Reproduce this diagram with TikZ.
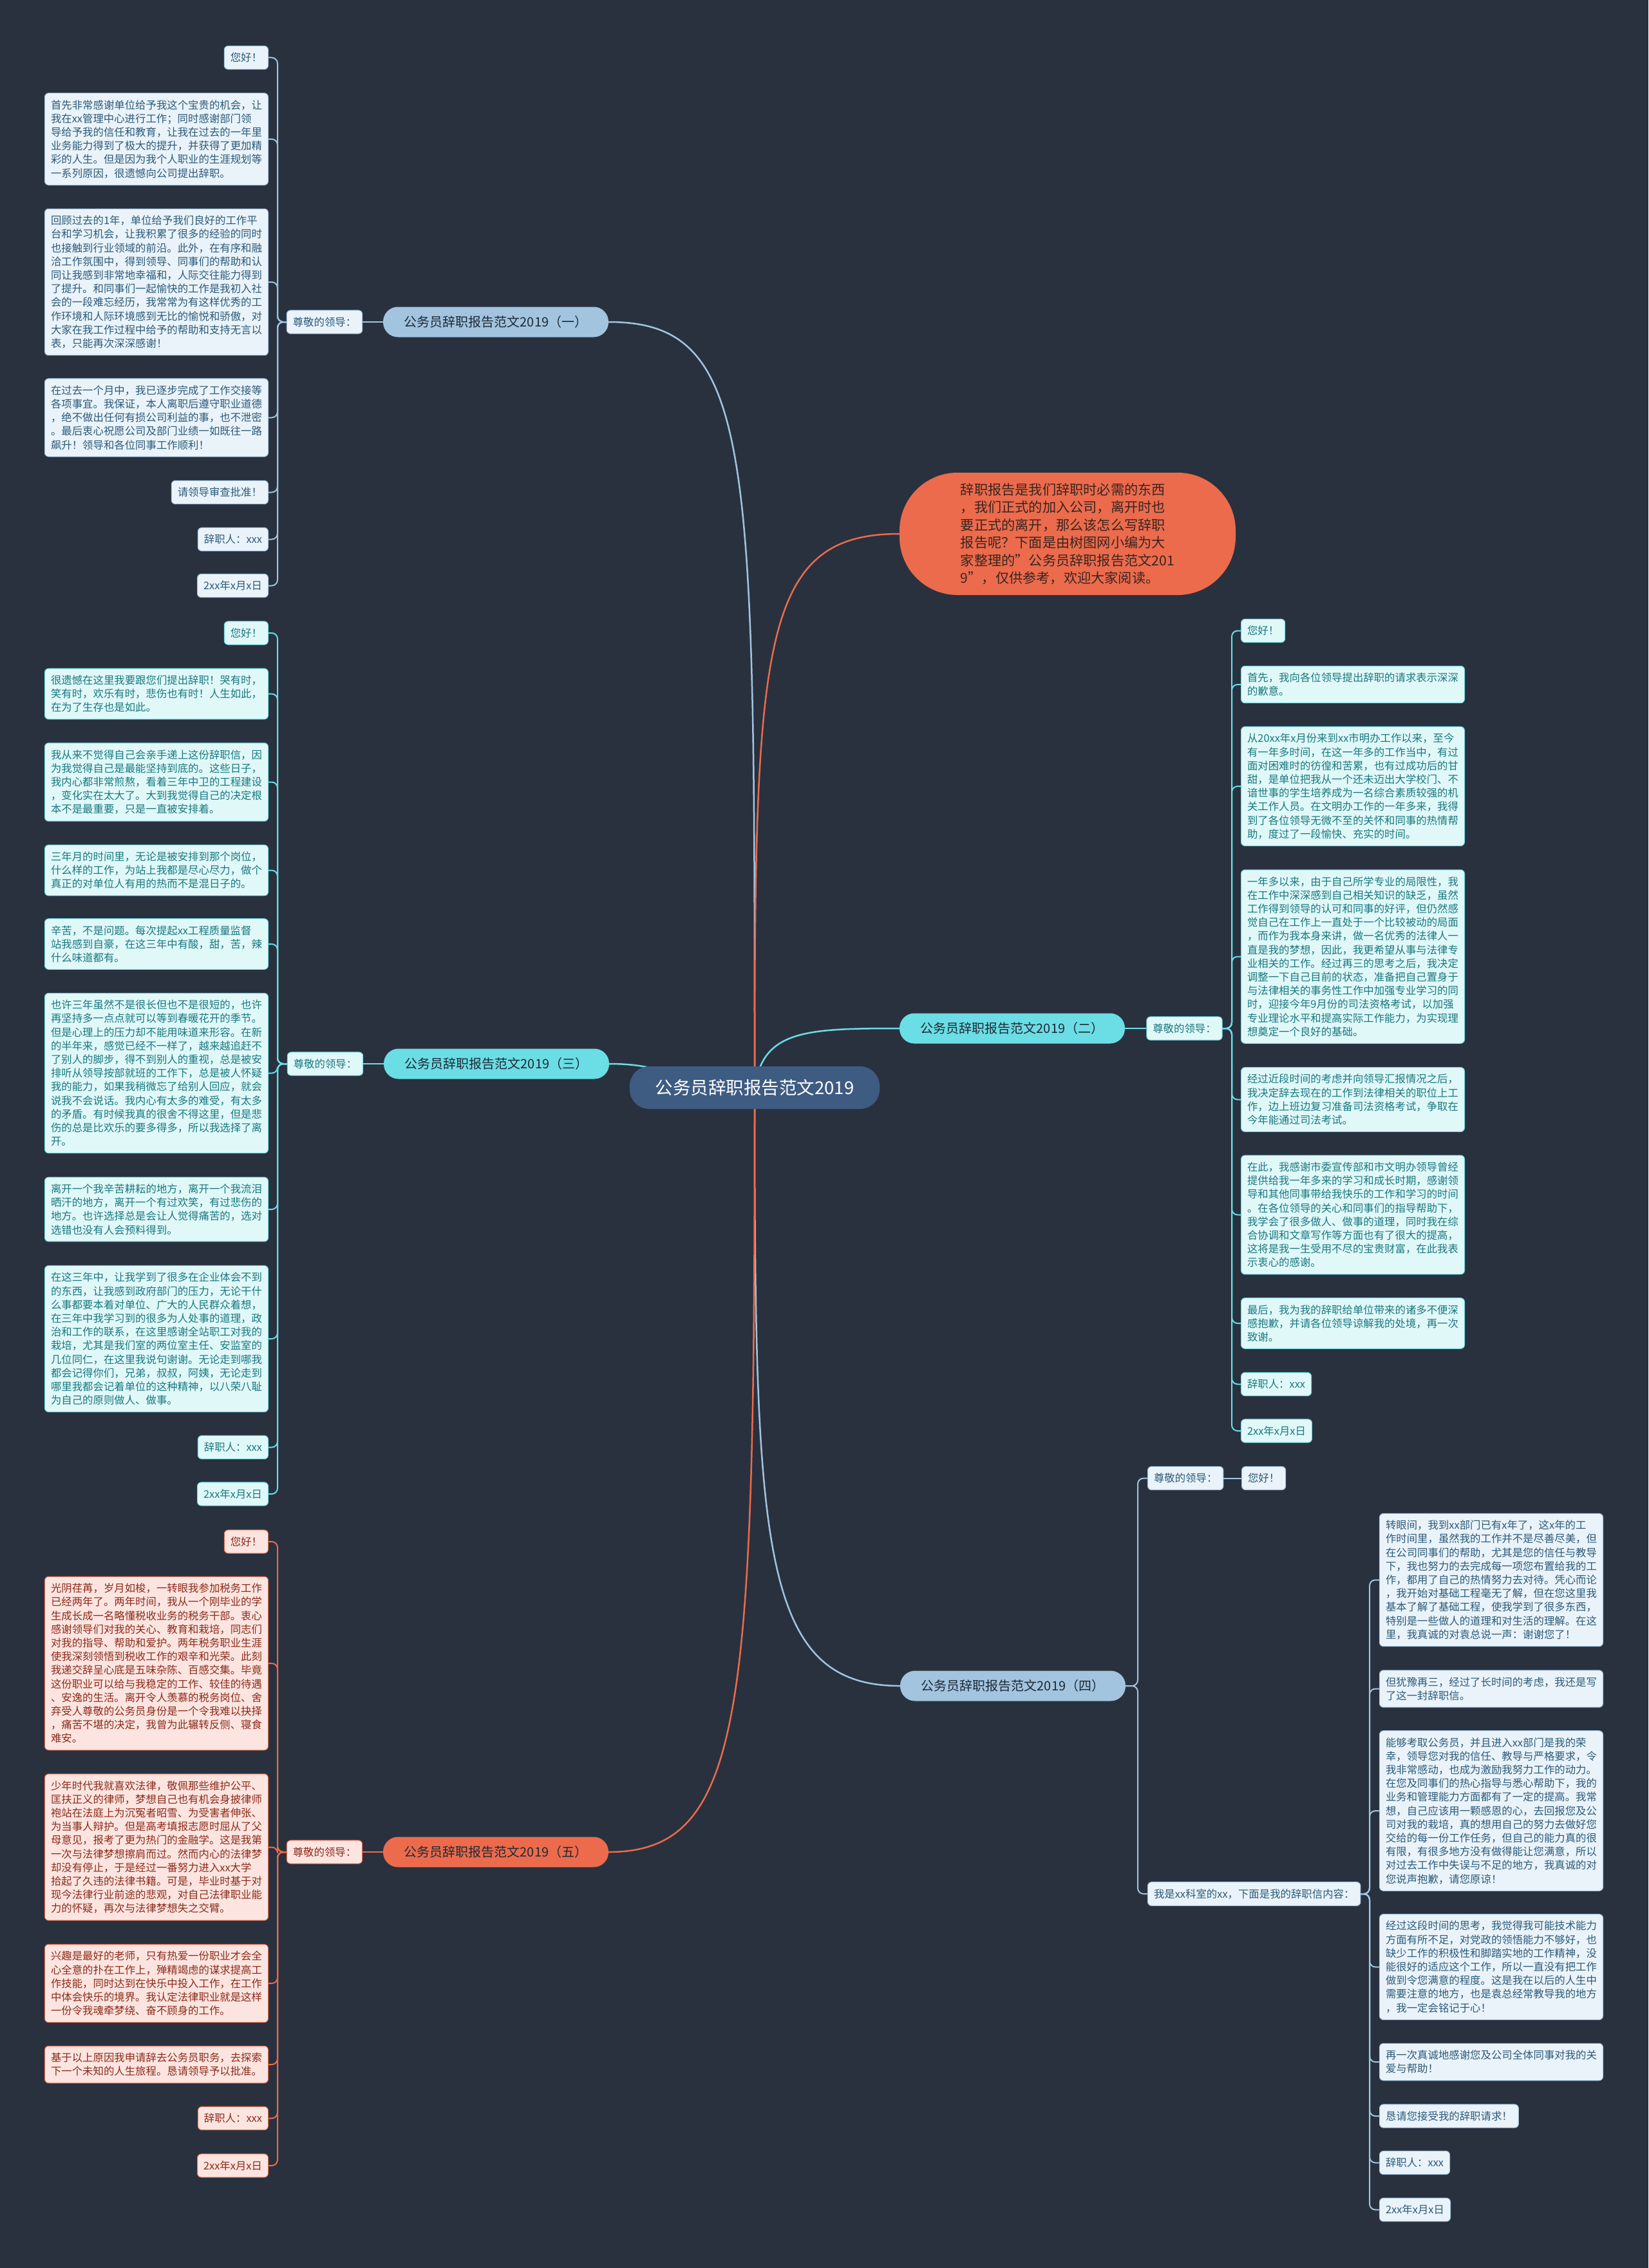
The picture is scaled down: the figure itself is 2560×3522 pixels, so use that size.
\documentclass[tikz,border=0pt]{standalone}
\usepackage{fontspec}
\setmainfont{Noto Sans CJK SC}
\definecolor{bgc}{HTML}{29313F}
\definecolor{rootc}{HTML}{3E5C82}
\definecolor{brtext}{HTML}{1E2835}
\definecolor{blline}{HTML}{A2C4DF}
\definecolor{blfill}{HTML}{EAF3F9}
\definecolor{bltext}{HTML}{2B5A7A}
\definecolor{cyline}{HTML}{6BDDE4}
\definecolor{cyfill}{HTML}{E1F8F9}
\definecolor{cytext}{HTML}{18787F}
\definecolor{orline}{HTML}{EB6B4C}
\definecolor{orfill}{HTML}{FCE5E0}
\definecolor{ortext}{HTML}{8C2A1A}
\definecolor{introtext}{HTML}{3A2420}
\newcommand\leaffont{\fontsize{16.4}{21.2}\selectfont}
\newcommand\brfont{\fontsize{20}{24}\selectfont}
\newcommand\rootfont{\fontsize{27.5}{32}\selectfont}
\newcommand\introfont{\fontsize{21.2}{27.5}\selectfont}
\pgfdeclarelayer{back}
\pgfdeclarelayer{bg}
\pgfsetlayers{back,bg,main}
\begin{document}
\begin{tikzpicture}[x=1pt,y=-1pt,
  leaf/.style={rectangle, rounded corners=6pt, inner xsep=9.5pt, inner ysep=10.5pt, font=\leaffont, align=left, line width=1pt},
  big/.style={leaf, text width=328pt},
  Bl/.style={fill=blfill, draw=blline, text=bltext},
  Cy/.style={fill=cyfill, draw=cyline, text=cytext},
  Or/.style={fill=orfill, draw=orline, text=ortext},
  branch/.style={rectangle, rounded corners=23pt, minimum width=350pt, minimum height=47pt, font=\brfont, text=brtext, inner sep=0pt},
  link/.style={line width=2.5pt},
  spine/.style={line width=2pt, rounded corners=9pt}]
\begin{pgfonlayer}{back}
\fill[bgc] (0,0) rectangle (2560,3522);
\end{pgfonlayer}
\useasboundingbox (0,0) rectangle (2560,3522);

% root and intro
\node[rectangle, rounded corners=30pt, fill=rootc, text=white, font=\rootfont, minimum width=388pt, minimum height=66pt] (root) at (1172,1689) {公务员辞职报告范文2019};
\node[rectangle, rounded corners=90pt, fill=orline, text=introtext, font=\introfont, minimum width=522pt, minimum height=190pt, align=left] (intro) at (1658,829) {辞职报告是我们辞职时必需的东西\\，我们正式的加入公司，离开时也\\要正式的离开，那么该怎么写辞职\\报告呢？下面是由树图网小编为大\\家整理的"公务员辞职报告范文201\\9"，仅供参考，欢迎大家阅读。};

% ---------- branch 1 ----------
\node[branch, fill=blline] (b1) at (770,500) {公务员辞职报告范文2019（一）};
\node[leaf,Bl] (l1) at (504,500) {尊敬的领导：};
\node[leaf,Bl,anchor=east] (c1a) at (417,89.5) {您好！};
\node[big,Bl,anchor=east] (c1b) at (417,216) {首先非常感谢单位给予我这个宝贵的机会，让\\我在xx管理中心进行工作；同时感谢部门领\\导给予我的信任和教育，让我在过去的一年里\\业务能力得到了极大的提升，并获得了更加精\\彩的人生。但是因为我个人职业的生涯规划等\\一系列原因，很遗憾向公司提出辞职。};
\node[big,Bl,anchor=east] (c1c) at (417,438) {回顾过去的1年，单位给予我们良好的工作平\\台和学习机会，让我积累了很多的经验的同时\\也接触到行业领域的前沿。此外，在有序和融\\洽工作氛围中，得到领导、同事们的帮助和认\\同让我感到非常地幸福和，人际交往能力得到\\了提升。和同事们一起愉快的工作是我初入社\\会的一段难忘经历，我常常为有这样优秀的工\\作环境和人际环境感到无比的愉悦和骄傲，对\\大家在我工作过程中给予的帮助和支持无言以\\表，只能再次深深感谢！};
\node[big,Bl,anchor=east] (c1d) at (417,648.5) {在过去一个月中，我已逐步完成了工作交接等\\各项事宜。我保证，本人离职后遵守职业道德\\，绝不做出任何有损公司利益的事，也不泄密\\。最后衷心祝愿公司及部门业绩一如既往一路\\飙升！领导和各位同事工作顺利！};
\node[leaf,Bl,anchor=east] (c1e) at (417,764.5) {请领导审查批准！};
\node[leaf,Bl,anchor=east] (c1f) at (417,837.5) {辞职人：xxx};
\node[leaf,Bl,anchor=east] (c1g) at (417,909.5) {2xx年x月x日};
\coordinate (s1) at (431,500);

% ---------- branch 3 ----------
\node[branch, fill=cyline] (b3) at (771,1652) {公务员辞职报告范文2019（三）};
\node[leaf,Cy] (l3) at (505,1652) {尊敬的领导：};
\node[leaf,Cy,anchor=east] (c3a) at (417,983) {您好！};
\node[big,Cy,anchor=east] (c3b) at (417,1077.5) {很遗憾在这里我要跟您们提出辞职！哭有时，\\笑有时，欢乐有时，悲伤也有时！人生如此，\\在为了生存也是如此。};
\node[big,Cy,anchor=east] (c3c) at (417,1214.5) {我从来不觉得自己会亲手递上这份辞职信，因\\为我觉得自己是最能坚持到底的。这些日子，\\我内心都非常煎熬，看着三年中卫的工程建设\\，变化实在太大了。大到我觉得自己的决定根\\本不是最重要，只是一直被安排着。};
\node[big,Cy,anchor=east] (c3d) at (417,1351.5) {三年月的时间里，无论是被安排到那个岗位，\\什么样的工作，为站上我都是尽心尽力，做个\\真正的对单位人有用的热而不是混日子的。};
\node[big,Cy,anchor=east] (c3e) at (417,1466) {辛苦，不是问题。每次提起xx工程质量监督\\站我感到自豪，在这三年中有酸，甜，苦，辣\\什么味道都有。};
\node[big,Cy,anchor=east] (c3f) at (417,1666.5) {也许三年虽然不是很长但也不是很短的，也许\\再坚持多一点点就可以等到春暖花开的季节。\\但是心理上的压力却不能用味道来形容。在新\\的半年来，感觉已经不一样了，越来越追赶不\\了别人的脚步，得不到别人的重视，总是被安\\排听从领导按部就班的工作下，总是被人怀疑\\我的能力，如果我稍微忘了给别人回应，就会\\说我不会说话。我内心有太多的难受，有太多\\的矛盾。有时候我真的很舍不得这里，但是悲\\伤的总是比欢乐的要多得多，所以我选择了离\\开。};
\node[big,Cy,anchor=east] (c3g) at (417,1878) {离开一个我辛苦耕耘的地方，离开一个我流泪\\晒汗的地方，离开一个有过欢笑，有过悲伤的\\地方。也许选择总是会让人觉得痛苦的，选对\\选错也没有人会预料得到。};
\node[big,Cy,anchor=east] (c3h) at (417,2079) {在这三年中，让我学到了很多在企业体会不到\\的东西，让我感到政府部门的压力，无论干什\\么事都要本着对单位、广大的人民群众着想，\\在三年中我学习到的很多为人处事的道理，政\\治和工作的联系，在这里感谢全站职工对我的\\栽培，尤其是我们室的两位室主任、安监室的\\几位同仁，在这里我说句谢谢。无论走到哪我\\都会记得你们，兄弟，叔叔，阿姨，无论走到\\哪里我都会记着单位的这种精神，以八荣八耻\\为自己的原则做人、做事。};
\node[leaf,Cy,anchor=east] (c3i) at (417,2247.5) {辞职人：xxx};
\node[leaf,Cy,anchor=east] (c3j) at (417,2320) {2xx年x月x日};
\coordinate (s3) at (431,1652);

% ---------- branch 5 ----------
\node[branch, fill=orline] (b5) at (770,2876) {公务员辞职报告范文2019（五）};
\node[leaf,Or] (l5) at (504,2876) {尊敬的领导：};
\node[leaf,Or,anchor=east] (c5a) at (417,2394) {您好！};
\node[big,Or,anchor=east] (c5b) at (417,2583) {光阴荏苒，岁月如梭，一转眼我参加税务工作\\已经两年了。两年时间，我从一个刚毕业的学\\生成长成一名略懂税收业务的税务干部。衷心\\感谢领导们对我的关心、教育和栽培，同志们\\对我的指导、帮助和爱护。两年税务职业生涯\\使我深刻领悟到税收工作的艰辛和光荣。此刻\\我递交辞呈心底是五味杂陈、百感交集。毕竟\\这份职业可以给与我稳定的工作、较佳的待遇\\、安逸的生活。离开令人羡慕的税务岗位、舍\\弃受人尊敬的公务员身份是一个令我难以抉择\\，痛苦不堪的决定，我曾为此辗转反侧、寝食\\难安。};
\node[big,Or,anchor=east] (c5c) at (417,2868.5) {少年时代我就喜欢法律，敬佩那些维护公平、\\匡扶正义的律师，梦想自己也有机会身披律师\\袍站在法庭上为沉冤者昭雪、为受害者伸张、\\为当事人辩护。但是高考填报志愿时屈从了父\\母意见，报考了更为热门的金融学。这是我第\\一次与法律梦想擦肩而过。然而内心的法律梦\\却没有停止，于是经过一番努力进入xx大学\\拾起了久违的法律书籍。可是，毕业时基于对\\现今法律行业前途的悲观，对自己法律职业能\\力的怀疑，再次与法律梦想失之交臂。};
\node[big,Or,anchor=east] (c5d) at (417,3080) {兴趣是最好的老师，只有热爱一份职业才会全\\心全意的扑在工作上，殚精竭虑的谋求提高工\\作技能，同时达到在快乐中投入工作，在工作\\中体会快乐的境界。我认定法律职业就是这样\\一份令我魂牵梦绕、奋不顾身的工作。};
\node[big,Or,anchor=east] (c5e) at (417,3206) {基于以上原因我申请辞去公务员职务，去探索\\下一个未知的人生旅程。恳请领导予以批准。};
\node[leaf,Or,anchor=east] (c5f) at (417,3289.5) {辞职人：xxx};
\node[leaf,Or,anchor=east] (c5g) at (417,3363) {2xx年x月x日};
\coordinate (s5) at (431,2876);

% ---------- branch 2 ----------
\node[branch, fill=cyline] (b2) at (1572,1597) {公务员辞职报告范文2019（二）};
\node[leaf,Cy] (l2) at (1839.5,1597) {尊敬的领导：};
\node[leaf,Cy,anchor=west] (c2a) at (1927,979.5) {您好！};
\node[big,Cy,anchor=west] (c2b) at (1927,1063) {首先，我向各位领导提出辞职的请求表示深深\\的歉意。};
\node[big,Cy,anchor=west] (c2c) at (1927,1221) {从20xx年x月份来到xx市明办工作以来，至今\\有一年多时间，在这一年多的工作当中，有过\\面对困难时的彷徨和苦累，也有过成功后的甘\\甜，是单位把我从一个还未迈出大学校门、不\\谙世事的学生培养成为一名综合素质较强的机\\关工作人员。在文明办工作的一年多来，我得\\到了各位领导无微不至的关怀和同事的热情帮\\助，度过了一段愉快、充实的时间。};
\node[big,Cy,anchor=west] (c2d) at (1927,1485.5) {一年多以来，由于自己所学专业的局限性，我\\在工作中深深感到自己相关知识的缺乏，虽然\\工作得到领导的认可和同事的好评，但仍然感\\觉自己在工作上一直处于一个比较被动的局面\\，而作为我本身来讲，做一名优秀的法律人一\\直是我的梦想，因此，我更希望从事与法律专\\业相关的工作。经过再三的思考之后，我决定\\调整一下自己目前的状态，准备把自己置身于\\与法律相关的事务性工作中加强专业学习的同\\时，迎接今年9月份的司法资格考试，以加强\\专业理论水平和提高实际工作能力，为实现理\\想奠定一个良好的基础。};
\node[big,Cy,anchor=west] (c2e) at (1927,1707.5) {经过近段时间的考虑并向领导汇报情况之后，\\我决定辞去现在的工作到法律相关的职位上工\\作，边上班边复习准备司法资格考试，争取在\\今年能通过司法考试。};
\node[big,Cy,anchor=west] (c2f) at (1927,1886.5) {在此，我感谢市委宣传部和市文明办领导曾经\\提供给我一年多来的学习和成长时期，感谢领\\导和其他同事带给我快乐的工作和学习的时间\\。在各位领导的关心和同事们的指导帮助下，\\我学会了很多做人、做事的道理，同时我在综\\合协调和文章写作等方面也有了很大的提高，\\这将是我一生受用不尽的宝贵财富，在此我表\\示衷心的感谢。};
\node[big,Cy,anchor=west] (c2g) at (1927,2055) {最后，我为我的辞职给单位带来的诸多不便深\\感抱歉，并请各位领导谅解我的处境，再一次\\致谢。};
\node[leaf,Cy,anchor=west] (c2h) at (1927,2149.5) {辞职人：xxx};
\node[leaf,Cy,anchor=west] (c2i) at (1927,2222) {2xx年x月x日};
\coordinate (s2) at (1913,1597);

% ---------- branch 4 ----------
\node[branch, fill=blline] (b4) at (1573,2618) {公务员辞职报告范文2019（四）};
\node[leaf,Bl,anchor=west] (l4a) at (1782,2295.5) {尊敬的领导：};
\node[leaf,Bl,anchor=west] (c4z) at (1928,2295.5) {您好！};
\node[leaf,Bl,anchor=west] (l4b) at (1782,2941) {我是xx科室的xx，下面是我的辞职信内容：};
\node[big,Bl,anchor=west] (c4a) at (2142,2453.5) {转眼间，我到xx部门已有x年了，这x年的工\\作时间里，虽然我的工作并不是尽善尽美，但\\在公司同事们的帮助，尤其是您的信任与教导\\下，我也努力的去完成每一项您布置给我的工\\作，都用了自己的热情努力去对待。凭心而论\\，我开始对基础工程毫无了解，但在您这里我\\基本了解了基础工程，使我学到了很多东西，\\特别是一些做人的道理和对生活的理解。在这\\里，我真诚的对袁总说一声：谢谢您了！};
\node[big,Bl,anchor=west] (c4b) at (2142,2622.5) {但犹豫再三，经过了长时间的考虑，我还是写\\了这一封辞职信。};
\node[big,Bl,anchor=west] (c4c) at (2142,2812) {能够考取公务员，并且进入xx部门是我的荣\\幸，领导您对我的信任、教导与严格要求，令\\我非常感动，也成为激励我努力工作的动力。\\在您及同事们的热心指导与悉心帮助下，我的\\业务和管理能力方面都有了一定的提高。我常\\想，自己应该用一颗感恩的心，去回报您及公\\司对我的栽培，真的想用自己的努力去做好您\\交给的每一份工作任务，但自己的能力真的很\\有限，有很多地方没有做得能让您满意，所以\\对过去工作中失误与不足的地方，我真诚的对\\您说声抱歉，请您原谅！};
\node[big,Bl,anchor=west] (c4d) at (2142,3054.5) {经过这段时间的思考，我觉得我可能技术能力\\方面有所不足，对党政的领悟能力不够好，也\\缺少工作的积极性和脚踏实地的工作精神，没\\能很好的适应这个工作，所以一直没有把工作\\做到令您满意的程度。这是我在以后的人生中\\需要注意的地方，也是袁总经常教导我的地方\\，我一定会铭记于心！};
\node[big,Bl,anchor=west] (c4e) at (2142,3202) {再一次真诚地感谢您及公司全体同事对我的关\\爱与帮助！};
\node[leaf,Bl,anchor=west] (c4f) at (2142,3286) {恳请您接受我的辞职请求！};
\node[leaf,Bl,anchor=west] (c4g) at (2142,3358.5) {辞职人：xxx};
\node[leaf,Bl,anchor=west] (c4h) at (2142,3431.5) {2xx年x月x日};
\coordinate (s4) at (1767,2618);
\coordinate (s4b) at (2127,2941);

% ---------- connectors ----------
\begin{pgfonlayer}{bg}
\draw[link, blline] (root.center) .. controls (1172,700) and (1172,500) .. (b1.east);
\draw[link, orline] (root.center) .. controls (1172,1000) and (1180,829) .. (intro.west);
\draw[link, cyline] (root.center) .. controls (1185,1600) and (1250,1597) .. (b2.west);
\draw[link, cyline] (root.center) .. controls (1050,1689) and (1050,1652) .. (b3.east);
\draw[link, blline] (root.center) .. controls (1172,2400) and (1180,2618) .. (b4.west);
\draw[link, orline] (root.center) .. controls (1172,2650) and (1160,2876) .. (b5.east);

\draw[spine, blline] (b1.west) -- (l1.east);
\foreach \c in {c1a,c1b,c1c,c1d,c1e,c1f,c1g} \draw[spine, blline] (l1.west) -- (s1) |- (\c.east);
\draw[spine, cyline] (b3.west) -- (l3.east);
\foreach \c in {c3a,c3b,c3c,c3d,c3e,c3f,c3g,c3h,c3i,c3j} \draw[spine, cyline] (l3.west) -- (s3) |- (\c.east);
\draw[spine, orline] (b5.west) -- (l5.east);
\foreach \c in {c5a,c5b,c5c,c5d,c5e,c5f,c5g} \draw[spine, orline] (l5.west) -- (s5) |- (\c.east);
\draw[spine, cyline] (b2.east) -- (l2.west);
\foreach \c in {c2a,c2b,c2c,c2d,c2e,c2f,c2g,c2h,c2i} \draw[spine, cyline] (l2.east) -- (s2) |- (\c.west);
\foreach \c in {l4a,l4b} \draw[spine, blline] (b4.east) -- (s4) |- (\c.west);
\draw[spine, blline] (l4a.east) -- (c4z.west);
\foreach \c in {c4a,c4b,c4c,c4d,c4e,c4f,c4g,c4h} \draw[spine, blline] (l4b.east) -- (s4b) |- (\c.west);
\end{pgfonlayer}
\end{tikzpicture}
\end{document}
